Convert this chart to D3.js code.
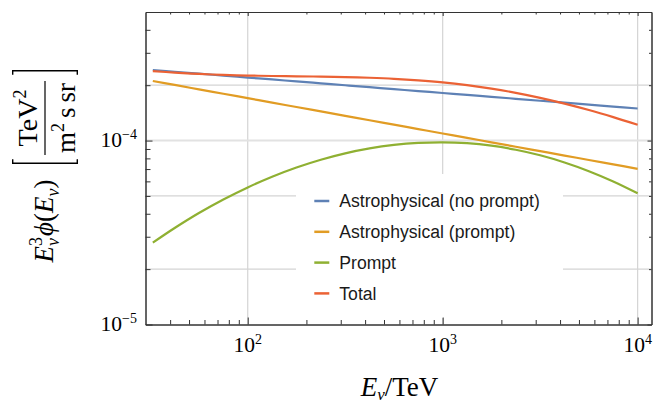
<!DOCTYPE html>
<html><head><meta charset="utf-8">
<script src="https://cdn.jsdelivr.net/npm/d3@7"></script>
<style>body{margin:0;background:#fff}svg{display:block}</style>
</head><body>
<svg id="chart" width="667" height="405"></svg>
<script>
// ---- data ----
const energies = [32.6, 42.2, 56.2, 75.0, 100, 133.4, 177.8, 237.1, 316.2, 421.7, 562.3, 749.9,
                  1000, 1334, 1778, 2371, 3162, 4217, 5623, 7499, 10000];
const astroNoPrompt = [2.419e-4, 2.367e-4, 2.311e-4, 2.255e-4, 2.201e-4, 2.149e-4, 2.097e-4, 2.047e-4,
                       1.998e-4, 1.951e-4, 1.904e-4, 1.858e-4, 1.814e-4, 1.770e-4, 1.728e-4, 1.687e-4,
                       1.646e-4, 1.607e-4, 1.568e-4, 1.531e-4, 1.494e-4];
const astroPrompt = [2.108e-4, 2.006e-4, 1.899e-4, 1.797e-4, 1.700e-4, 1.608e-4, 1.522e-4, 1.440e-4,
                     1.363e-4, 1.289e-4, 1.220e-4, 1.155e-4, 1.093e-4, 1.034e-4, 9.784e-5, 9.258e-5,
                     8.760e-5, 8.289e-5, 7.843e-5, 7.421e-5, 7.022e-5];
const promptFlux = [2.786e-5, 3.346e-5, 4.037e-5, 4.783e-5, 5.565e-5, 6.360e-5, 7.138e-5, 7.870e-5,
                    8.522e-5, 9.064e-5, 9.467e-5, 9.712e-5, 9.785e-5, 9.674e-5, 9.380e-5, 8.918e-5,
                    8.317e-5, 7.603e-5, 6.817e-5, 5.993e-5, 5.168e-5];
const totalFlux = [2.387e-4, 2.341e-4, 2.303e-4, 2.275e-4, 2.257e-4, 2.244e-4, 2.236e-4, 2.227e-4,
                   2.215e-4, 2.195e-4, 2.167e-4, 2.126e-4, 2.072e-4, 2.001e-4, 1.916e-4, 1.818e-4,
                   1.708e-4, 1.589e-4, 1.466e-4, 1.341e-4, 1.219e-4];

const seriesNames = ["Astrophysical (no prompt)", "Astrophysical (prompt)", "Prompt", "Total"];
const seriesColors = ["#5E81B5", "#E19C24", "#8FB032", "#EB6235"];
const seriesValues = [astroNoPrompt, astroPrompt, promptFlux, totalFlux];

const xMajorTicks = [100, 1000, 10000];
const xMajorExps = ["2", "3", "4"];
const xMinorTicks = [40,50,60,70,80,90,200,300,400,500,600,700,800,900,2000,3000,4000,5000,6000,7000,8000,9000];
const yMajorTicks = [1e-5, 1e-4];
const yMajorExps = ["\u22125", "\u22124"];
const yMinorTicks = [2e-5,3e-5,4e-5,5e-5,6e-5,7e-5,8e-5,9e-5,2e-4,3e-4,4e-4];
const xGrid = [100, 1000, 10000];
const yGrid = [2e-5, 5e-5, 1e-4, 2e-4];

// ---- layout ----
const L = 145.5, R = 651.5, T = 12, B = 324.5;
const svg = d3.select("#chart");
const x = d3.scaleLog().domain([29.9, 11780]).range([L, R]);
const y = d3.scaleLog().domain([1e-5, 5e-4]).range([B, T]);
const serif = "'Liberation Serif', 'Times New Roman', serif";
const sans = "'Liberation Sans', Arial, Helvetica, sans-serif";

// grid
const grid = svg.append("g");
grid.selectAll("line.vx").data(xGrid).join("line")
  .attr("x1", d => x(d)).attr("x2", d => x(d)).attr("y1", T).attr("y2", B)
  .attr("stroke", "#d4d4d4").attr("stroke-width", 1.2);
grid.selectAll("line.hy").data(yGrid).join("line")
  .attr("x1", L).attr("x2", R).attr("y1", d => y(d)).attr("y2", d => y(d))
  .attr("stroke", d => d === 1e-4 ? "#e2e2e2" : "#d4d4d4")
  .attr("stroke-width", d => d === 1e-4 ? 2 : 1.2);

// curves
const line = d3.line().x(d => x(d[0])).y(d => y(d[1])).curve(d3.curveCatmullRom.alpha(0.5));
svg.append("g").selectAll("path").data(seriesValues).join("path")
  .attr("d", vals => line(energies.map((e, i) => [e, vals[i]])))
  .attr("fill", "none")
  .attr("stroke", (d, i) => seriesColors[i])
  .attr("stroke-width", 2.2);

// legend
const lg = svg.append("g");
lg.append("rect").attr("x", 296).attr("y", 174).attr("width", 267).attr("height", 144).attr("fill", "#fff");
const rowY = i => 201 + i * 30.8;
seriesNames.forEach((name, i) => {
  lg.append("line").attr("x1", 314.3).attr("x2", 329.3).attr("y1", rowY(i)).attr("y2", rowY(i))
    .attr("stroke", seriesColors[i]).attr("stroke-width", 2.5);
  lg.append("text").attr("x", 339.3).attr("y", rowY(i)).attr("dy", "0.36em")
    .attr("font-family", sans).attr("font-size", 17.6).attr("fill", "#1a1a1a").text(name);
});

// axes (ticks inward)
const frameColor = "#333";
function styleAxis(g) {
  g.select(".domain").attr("stroke", frameColor);
  g.selectAll(".tick line").attr("stroke", frameColor);
  g.selectAll(".tick text").remove();
}
svg.append("g").attr("transform", `translate(0,${B})`)
  .call(d3.axisBottom(x).tickValues(xMajorTicks).tickSizeInner(-7).tickSizeOuter(0).tickFormat(""))
  .call(styleAxis);
svg.append("g").attr("transform", `translate(0,${B})`)
  .call(d3.axisBottom(x).tickValues(xMinorTicks).tickSizeInner(-4.5).tickSizeOuter(0).tickFormat(""))
  .call(styleAxis);
svg.append("g").attr("transform", `translate(0,${T})`)
  .call(d3.axisTop(x).tickValues(xMajorTicks).tickSizeInner(-4).tickSizeOuter(0).tickFormat(""))
  .call(styleAxis);
svg.append("g").attr("transform", `translate(0,${T})`)
  .call(d3.axisTop(x).tickValues(xMinorTicks).tickSizeInner(-2.5).tickSizeOuter(0).tickFormat(""))
  .call(styleAxis);
svg.append("g").attr("transform", `translate(${L},0)`)
  .call(d3.axisLeft(y).tickValues(yMajorTicks).tickSizeInner(-7).tickSizeOuter(0).tickFormat(""))
  .call(styleAxis);
svg.append("g").attr("transform", `translate(${L},0)`)
  .call(d3.axisLeft(y).tickValues(yMinorTicks).tickSizeInner(-5).tickSizeOuter(0).tickFormat(""))
  .call(styleAxis);
svg.append("g").attr("transform", `translate(${R},0)`)
  .call(d3.axisRight(y).tickValues(yMajorTicks).tickSizeInner(-4).tickSizeOuter(0).tickFormat(""))
  .call(styleAxis);
svg.append("g").attr("transform", `translate(${R},0)`)
  .call(d3.axisRight(y).tickValues(yMinorTicks).tickSizeInner(-2.5).tickSizeOuter(0).tickFormat(""))
  .call(styleAxis);

// tick labels
xMajorTicks.forEach((v, i) => {
  const t = svg.append("text").attr("x", x(v)).attr("y", B + 27.2).attr("text-anchor", "middle")
    .attr("font-family", serif).attr("font-size", 21.5).attr("fill", "#000");
  t.append("tspan").text("10");
  t.append("tspan").attr("font-size", 14).attr("dy", -8).text(xMajorExps[i]);
});
yMajorTicks.forEach((v, i) => {
  const t = svg.append("text").attr("x", 137).attr("y", y(v) + 6).attr("text-anchor", "end")
    .attr("font-family", serif).attr("font-size", 21.5).attr("fill", "#000");
  t.append("tspan").text("10");
  t.append("tspan").attr("font-size", 14).attr("dy", -8).text(yMajorExps[i]);
});

// x title
{
  const t = svg.append("text").attr("x", 399.5).attr("y", 395.5).attr("text-anchor", "middle")
    .attr("font-family", serif).attr("font-size", 27).attr("fill", "#000");
  t.append("tspan").attr("font-style", "italic").text("E");
  t.append("tspan").attr("font-style", "italic").attr("font-size", 17).attr("dy", 4.5).text("\u03BD");
  t.append("tspan").attr("dy", -4.5).text("/TeV");
}

// y title (rotated): local x' = -screenY, local y' = screenX
{
  const g = svg.append("g").attr("transform", "rotate(-90)")
    .attr("font-family", serif).attr("fill", "#000");
  const t = g.append("text").attr("x", -221).attr("y", 53).attr("text-anchor", "middle").attr("font-size", 27);
  t.append("tspan").attr("font-style", "italic").text("E");
  t.append("tspan").attr("font-size", 18).attr("dy", -11).text("3");
  t.append("tspan").attr("font-style", "italic").attr("font-size", 18).attr("dx", -9).attr("dy", 17).text("\u03BD");
  t.append("tspan").attr("font-style", "italic").attr("dx", 2).attr("dy", -6).text("\u03D5");
  t.append("tspan").text("(");
  t.append("tspan").attr("font-style", "italic").text("E");
  t.append("tspan").attr("font-style", "italic").attr("font-size", 18).attr("dy", 6).text("\u03BD");
  t.append("tspan").attr("dy", -6).text(")");

  const br = 4;
  g.append("path").attr("d", `M${-163.3 + br},12.7 L-163.3,12.7 L-163.3,77.3 L${-163.3 + br},77.3`)
    .attr("fill", "none").attr("stroke", "#000").attr("stroke-width", 1.4);
  g.append("path").attr("d", `M${-70.7 - br},12.7 L-70.7,12.7 L-70.7,77.3 L${-70.7 - br},77.3`)
    .attr("fill", "none").attr("stroke", "#000").attr("stroke-width", 1.4);
  g.append("line").attr("x1", -155).attr("x2", -81).attr("y1", 45).attr("y2", 45)
    .attr("stroke", "#000").attr("stroke-width", 1.2);
  const num = g.append("text").attr("x", -118).attr("y", 37).attr("text-anchor", "middle").attr("font-size", 28);
  num.append("tspan").text("TeV");
  num.append("tspan").attr("font-size", 18).attr("dy", -11).text("2");
  const den = g.append("text").attr("x", -118).attr("y", 75).attr("text-anchor", "middle").attr("font-size", 27);
  den.append("tspan").text("m");
  den.append("tspan").attr("font-size", 18).attr("dy", -11).text("2");
  den.append("tspan").attr("dy", 11).attr("dx", 5).text("s");
  den.append("tspan").attr("dx", 5).text("sr");
}
</script>
</body></html>
